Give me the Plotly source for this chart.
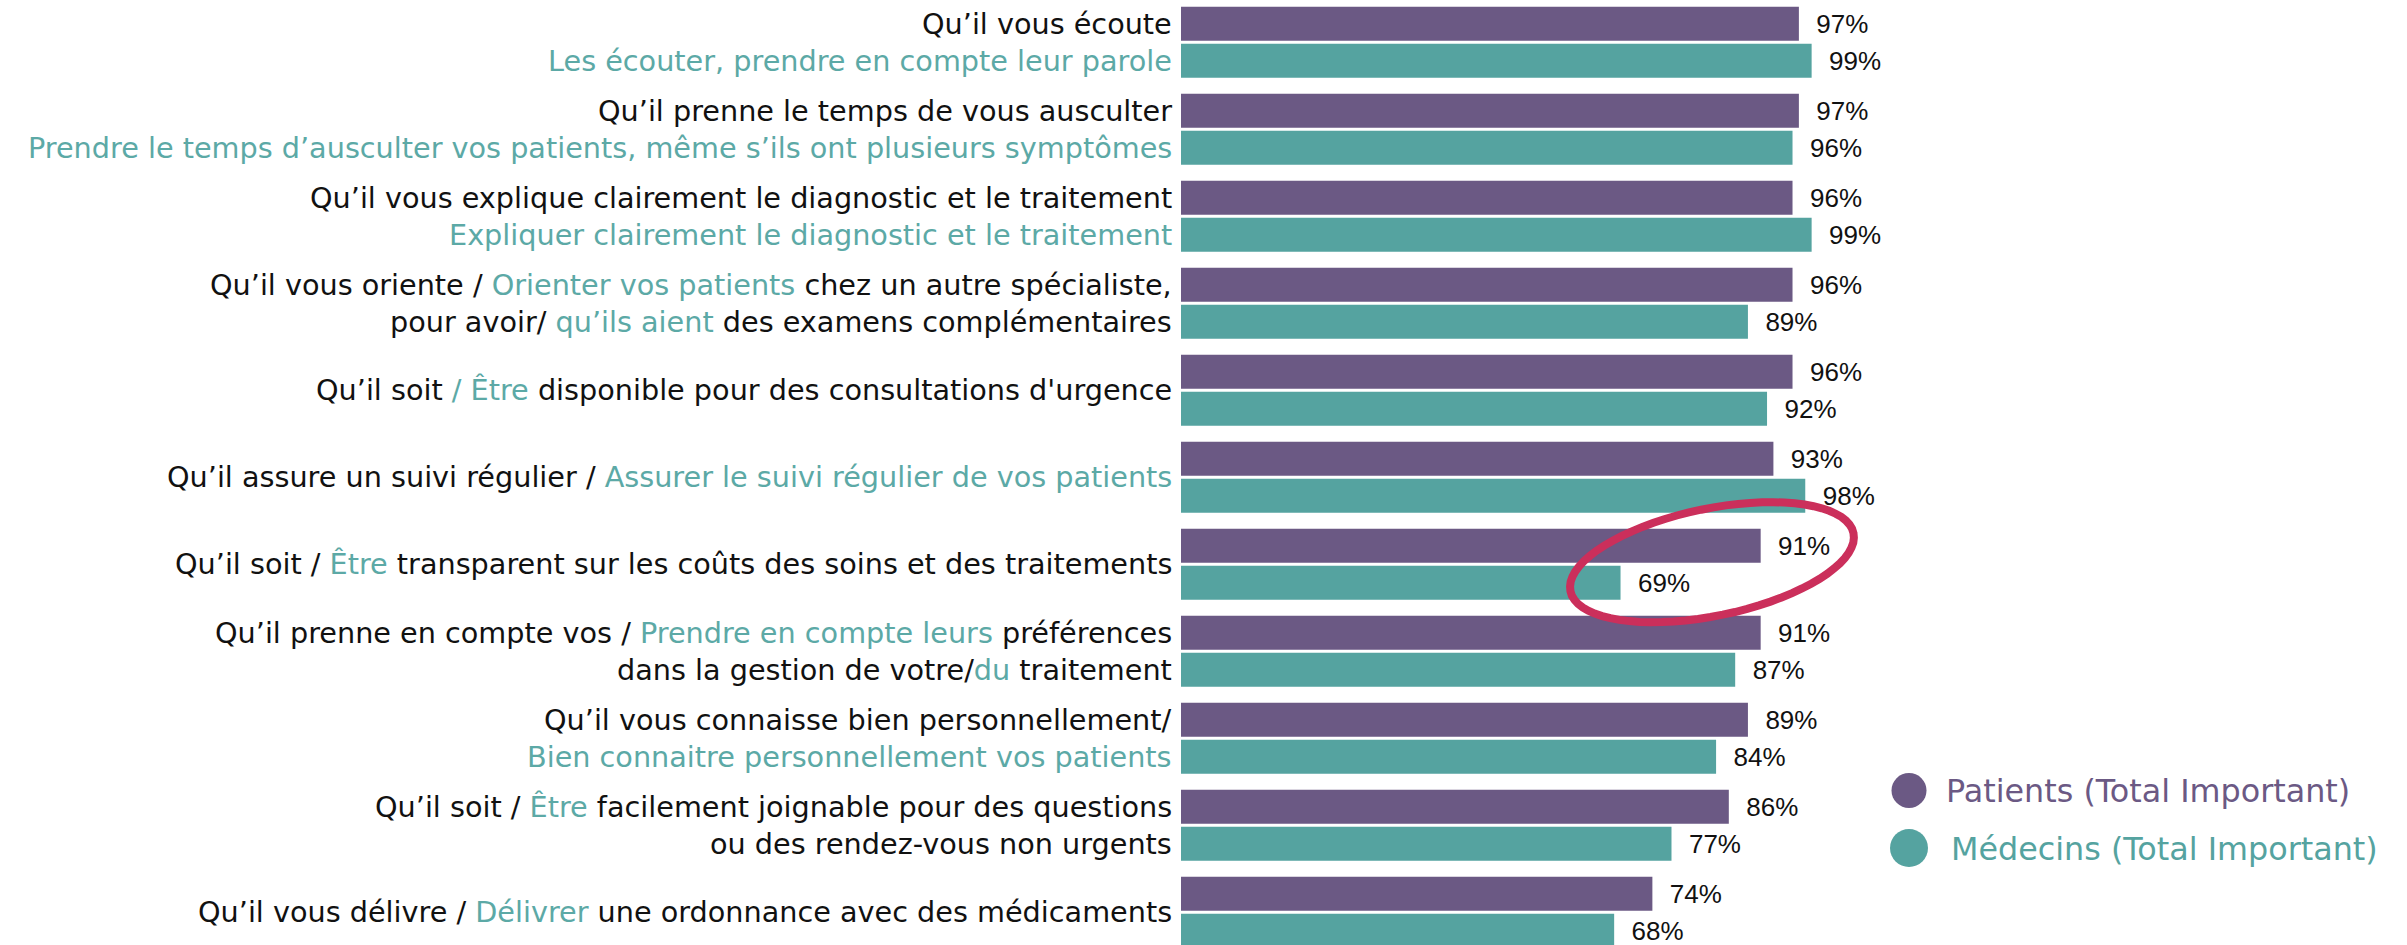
import math
import plotly.graph_objects as go

# ---------------- data ----------------
categories = [
    "Qu’il vous écoute",
    "Qu’il prenne le temps de vous ausculter",
    "Qu’il vous explique clairement le diagnostic et le traitement",
    "Qu’il vous oriente",
    "Qu’il soit disponible",
    "Qu’il assure un suivi régulier",
    "Qu’il soit transparent",
    "Qu’il prenne en compte vos préférences",
    "Qu’il vous connaisse bien",
    "Qu’il soit facilement joignable",
    "Qu’il vous délivre une ordonnance",
]
patients = [97, 97, 96, 96, 96, 93, 91, 91, 89, 86, 74]
medecins = [99, 96, 99, 89, 92, 98, 69, 87, 84, 77, 68]

T = "#5CA9A6"  # teal text
K = "#111111"  # black text


def t(s):
    return f"<span style='color:{T}'>{s}</span>"


# label lines per category: (line beside patients bar, line beside medecins bar) or one centred line
label_lines = [
    ["Qu’il vous écoute", t("Les écouter, prendre en compte leur parole")],
    ["Qu’il prenne le temps de vous ausculter",
     t("Prendre le temps d’ausculter vos patients, même s’ils ont plusieurs symptômes")],
    ["Qu’il vous explique clairement le diagnostic et le traitement",
     t("Expliquer clairement le diagnostic et le traitement")],
    ["Qu’il vous oriente / " + t("Orienter vos patients") + " chez un autre spécialiste,",
     "pour avoir/ " + t("qu’ils aient") + " des examens complémentaires"],
    ["Qu’il soit " + t("/ Être") + " disponible pour des consultations d'urgence"],
    ["Qu’il assure un suivi régulier / " + t("Assurer le suivi régulier de vos patients")],
    ["Qu’il soit / " + t("Être") + " transparent sur les coûts des soins et des traitements"],
    ["Qu’il prenne en compte vos / " + t("Prendre en compte leurs") + " préférences",
     "dans la gestion de votre/" + t("du") + " traitement"],
    ["Qu’il vous connaisse bien personnellement/", t("Bien connaitre personnellement vos patients")],
    ["Qu’il soit / " + t("Être") + " facilement joignable pour des questions",
     "ou des rendez-vous non urgents"],
    ["Qu’il vous délivre / " + t("Délivrer") + " une ordonnance avec des médicaments"],
]

series_names = ["Patients (Total Important)", "Médecins (Total Important)"]
highlight_index = 6

# ---------------- style ----------------
PURPLE = "#6B5984"
TEAL = "#55A3A0"
W, H = 2407, 945
ML = 1181
PX_PER_UNIT = 6.37
PW = W - ML
XMAX = PW / PX_PER_UNIT
LABEL_FONT = "DejaVu Sans"
LABEL_SIZE = 28.7

fig = go.Figure()
for name, vals, col in [(series_names[0], patients, PURPLE), (series_names[1], medecins, TEAL)]:
    fig.add_trace(go.Bar(
        y=categories, x=vals, orientation="h", name=name,
        marker=dict(color=col, line=dict(width=0)),
        texttemplate="\u00a0\u00a0%{x}%", textposition="outside",
        textfont=dict(family="Liberation Sans", size=26, color="#111111"),
        constraintext="none", cliponaxis=False, showlegend=False,
        hoverinfo="skip",
    ))

fig.update_layout(
    width=W, height=H,
    margin=dict(l=ML, r=0, t=0, b=0, pad=0),
    paper_bgcolor="white", plot_bgcolor="white",
    barmode="group", bargap=0.149, bargroupgap=0.081,
    xaxis=dict(range=[0, XMAX], visible=False, fixedrange=True),
    yaxis=dict(type="category", categoryorder="array", categoryarray=categories,
               range=[10.377, -0.485], showticklabels=False, showgrid=False,
               zeroline=False, showline=False, ticks="", fixedrange=True),
    showlegend=False,
)

# category labels
for cat, lines in zip(categories, label_lines):
    shifts = [18.5, -18.5] if len(lines) == 2 else [0]
    for ln, sh in zip(lines, shifts):
        fig.add_annotation(
            x=0, y=cat, xref="x", yref="y", text=ln, showarrow=False,
            xanchor="right", yanchor="middle", xshift=-7, yshift=sh,
            font=dict(family=LABEL_FONT, size=LABEL_SIZE, color=K),
        )

# highlight ellipse (pixel-sized path anchored at the patients value of the highlighted item)
a, b, th = 144.5, 53.6, math.radians(11.6)
cx, cy = -48.7, 2.0
pts = []
for i in range(73):
    p = 2 * math.pi * i / 72
    ex = a * math.cos(p)
    ey = b * math.sin(p)
    pts.append((cx + ex * math.cos(th) - ey * math.sin(th), cy + ex * math.sin(th) + ey * math.cos(th)))
path = "M " + " L ".join(f"{x:.1f},{y:.1f}" for x, y in pts) + " Z"
fig.add_shape(type="path", path=path, xref="x", yref="y",
              xsizemode="pixel", ysizemode="pixel",
              xanchor=patients[highlight_index], yanchor=categories[highlight_index],
              line=dict(color="#CB2F5B", width=8), layer="above")


# custom legend (circles + coloured text)
def px_to_paper_x(px):
    return (px - ML) / PW


def px_to_paper_y(py):
    return 1 - py / H


legend_items = [
    (series_names[0], PURPLE, 1909, 790.5, 35, 1944),
    (series_names[1], TEAL, 1909, 848, 38, 1949),
]
for name, col, lx, ly, d, tx in legend_items:
    fig.add_shape(type="circle", xref="paper", yref="paper",
                  xsizemode="pixel", ysizemode="pixel",
                  xanchor=px_to_paper_x(lx), yanchor=px_to_paper_y(ly),
                  x0=-d / 2, x1=d / 2, y0=-d / 2, y1=d / 2,
                  fillcolor=col, line=dict(width=0))
    fig.add_annotation(x=px_to_paper_x(tx), y=px_to_paper_y(ly), xref="paper", yref="paper",
                       text=name, showarrow=False, xanchor="left", yanchor="middle",
                       font=dict(family=LABEL_FONT, size=31.8, color=col))

fig.write_html(
    "out.html",
    config={"displayModeBar": False},
    post_script="document.body.style.margin='0';document.body.style.overflow='hidden';",
)
